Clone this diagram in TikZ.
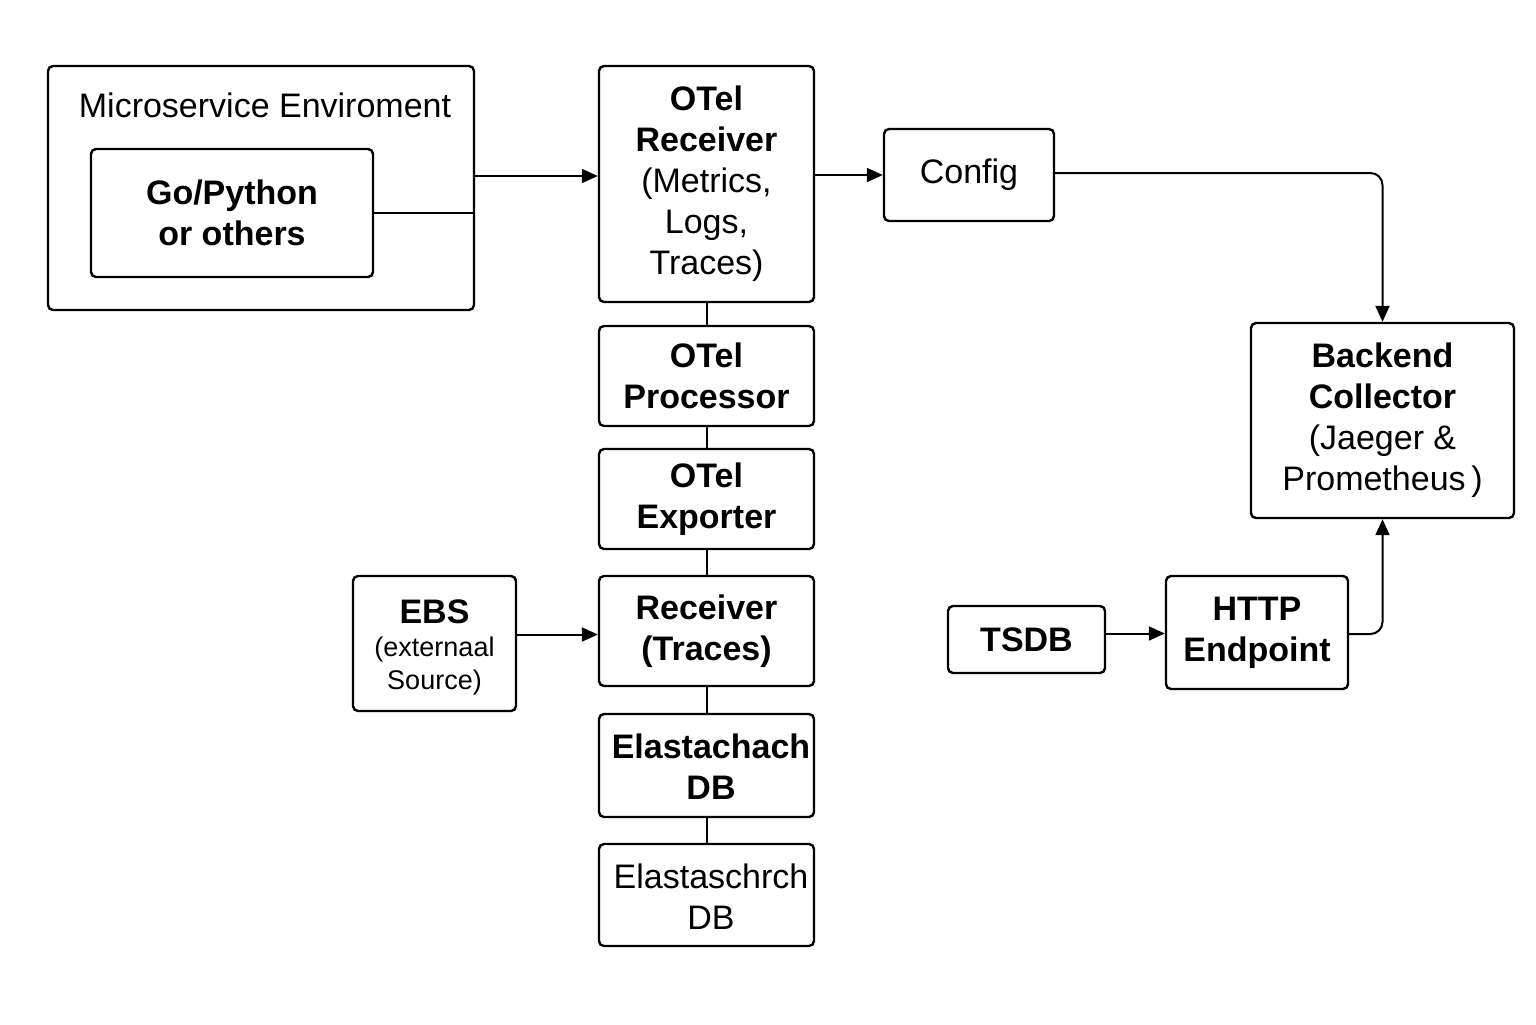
\documentclass[tikz,border=0pt]{standalone}
\usepackage{fontspec}
\setmainfont{Liberation Sans}
\usetikzlibrary{arrows.meta}
\begin{document}
\begin{tikzpicture}[x=0.5pt,y=-0.5pt,
  box/.style={draw, line width=1.2pt, rounded corners=2.5pt, align=center, inner sep=0pt},
  big/.style={font=\fontsize{17}{20.5}\selectfont},
  conn/.style={line width=1pt},
  arr/.style={line width=1pt, -{Triangle[length=8pt,width=7pt]}}]
\useasboundingbox (0,0) rectangle (1536,1024);
\node[box, minimum width=213pt, minimum height=122pt] (env) at (261,188) {};
\node[big] (envt) at (265,105) {Microservice Enviroment};
\node[box, big, minimum width=141pt, minimum height=64pt] (go) at (232,213) {\textbf{Go/Python}\\\textbf{or others}};
\node[box, big, minimum width=107.5pt, minimum height=118pt] (recv) at (706.5,184) {\textbf{OTel}\\\textbf{Receiver}\\(Metrics,\\Logs,\\Traces)};
\node[box, big, minimum width=85pt, minimum height=46pt] (cfg) at (969,175) {Config};
\node[box, big, minimum width=131.5pt, minimum height=97.5pt] (back) at (1382.5,420.5) {\textbf{Backend}\\\textbf{Collector}\\(Jaeger \&\\Prometheus\,)};
\node[box, big, minimum width=107.5pt, minimum height=50pt] (proc) at (706.5,376) {\textbf{OTel}\\\textbf{Processor}};
\node[box, big, minimum width=107.5pt, minimum height=50pt] (expo) at (706.5,499) {\textbf{OTel}\\\textbf{Exporter}};
\node[box, big, minimum width=107.5pt, minimum height=55pt] (rtr) at (706.5,631) {\textbf{Receiver}\\\textbf{(Traces)}};
\node[box, big, minimum width=107.5pt, minimum height=51.5pt] (edb1) at (706.5,765.5) {};
\node[big, align=center] (edb1t) at (711,767) {\textbf{Elastachach}\\\textbf{DB}};
\node[box, big, minimum width=107.5pt, minimum height=51pt] (edb2) at (706.5,895) {};
\node[big, align=center] (edb2t) at (711,897) {Elastaschrch\\DB};
\node[box, minimum width=81.5pt, minimum height=67.5pt] (ebs) at (434.5,643.5) {};
\node[align=center, font=\fontsize{13.5}{16.5}\selectfont] (ebst) at (434.5,647) {\fontsize{17}{20}\selectfont\textbf{EBS}\\\fontsize{13.5}{16.5}\selectfont (externaal\\Source)};
\node[box, big, minimum width=78.5pt, minimum height=33.5pt] (tsdb) at (1026.5,639.5) {\textbf{TSDB}};
\node[box, big, minimum width=91pt, minimum height=56.5pt] (http) at (1257,632.5) {\textbf{HTTP}\\\textbf{Endpoint}};
% connectors
\draw[conn] (go.east) -- (go.east -| env.east);
\draw[arr] ([yshift=6pt]env.east) -- ([yshift=6pt]env.east -| recv.west);
\draw[arr] (recv.east |- cfg.west) -- (cfg.west);
\draw[arr, rounded corners=6pt] ([yshift=1pt]cfg.east) -| (back.north);
\draw[conn] (recv.south) -- (proc.north);
\draw[conn] (proc.south) -- (expo.north);
\draw[conn] (expo.south) -- (rtr.north);
\draw[conn] (rtr.south) -- (edb1.north);
\draw[conn] (edb1.south) -- (edb2.north);
\draw[arr] ([yshift=4.5pt]ebs.east) -- ([yshift=4.5pt]ebs.east -| rtr.west);
\draw[arr] ([yshift=3pt]tsdb.east) -- ([yshift=3pt]tsdb.east -| http.west);
\draw[arr, rounded corners=6pt] ([yshift=-0.75pt]http.east) -| (back.south);
\end{tikzpicture}
\end{document}
